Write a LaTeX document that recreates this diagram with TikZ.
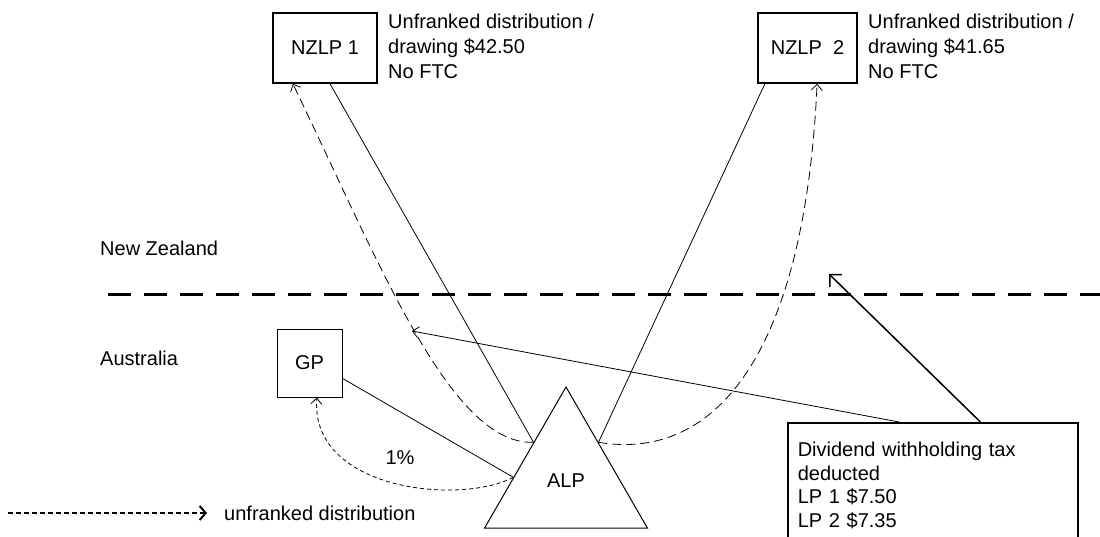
\documentclass[tikz,border=0pt]{standalone}
\usepackage{fontspec}
\setmainfont{Liberation Sans}
\usetikzlibrary{positioning,shapes.geometric,arrows.meta}
\tikzset{%
  every party/.style={
    rectangle,
    draw,
    line width=1.5pt,
    minimum height=70pt
  },
  party note/.style={
    anchor=north west,
    inner sep=0pt,
    align=left,
    font=\fontsize{20}{25}\selectfont
  },
  distribution/.style={
    ->,
    line width=0.8pt,
    dash pattern=on 9pt off 5pt
  },
}

\begin{document}
\begin{tikzpicture}[x=1pt, y=-1pt, >={Straight Barb[length=6pt,width=11pt]}, font=\fontsize{20}{24}\selectfont]

        \useasboundingbox (0,0) rectangle (1100,536);

        % countries
        \foreach \l/\y [count=\i] in {New Zealand/248, Australia/358}
        \node [anchor=west, inner sep=0pt] (region-\i) at (100,\y) {\l};
        \draw [line width=3pt, dash pattern=on 23pt off 13pt] (108,294) -- (1100,294);

        % partnerships
        \node [every party, minimum width=104pt] (nzlp-1) at (325,48) {NZLP 1};
        \node [every party, minimum width=99pt] (nzlp-2) at (807.5,48) {NZLP~~2};
        \node [party note] (note-1) at (388,14) {Unfranked distribution /\\ drawing \$42.50\\ No FTC};
        \node [party note] (note-2) at (868,14) {Unfranked distribution /\\ drawing \$41.65\\ No FTC};
        \node [rectangle, draw, line width=1pt, minimum width=65pt, minimum height=68pt] (gp) at (309.5,363) {GP};
        \node [regular polygon, regular polygon sides=3, draw, line width=1pt, minimum size=188pt, inner sep=0pt] (alp) at (566,481) {ALP};
        \node [rectangle, draw, line width=1.5pt, anchor=north west, minimum height=125pt, text width=270pt, inner xsep=10pt, align=left, font=\fontsize{20}{23.5}\selectfont] (wht) at (787,422) {Dividend withholding tax\\ deducted\\ LP 1 \$7.50\\ LP 2 \$7.35};

        % holdings
        \draw [line width=0.8pt] (nzlp-1.-82) -- (alp.130);
        \draw [line width=0.8pt] (nzlp-2.-140) -- (alp.50);
        \draw [line width=0.8pt] (gp.-25) -- (alp.176);

        % distributions
        \draw [distribution] (alp.130) .. controls +(-83,3) and +(87,180) .. (nzlp-1.-132);
        \draw [distribution] (alp.50) .. controls +(120,20) and +(-12,265) .. (nzlp-2.-75);
        \draw [distribution, dash pattern=on 4pt off 3pt] (alp.176) .. controls +(-53,28) and +(-7,93) .. (gp.-78);
        \node (share) at (400,458) {1\%};

        % withholding tax
        \coordinate (tax-1) at (412,331);
        \coordinate (tax-2) at (829,274);
        \draw [->, line width=0.8pt] (wht.118.5) -- (tax-1);
        \draw [-{Straight Barb[length=8.5pt,width=17pt]}, line width=1.5pt] (wht.53.6) -- (tax-2);

        % legend
        \node [anchor=west, inner sep=0pt] (legend) at (224,513) {unfranked distribution};
        \coordinate (legend-start) at (8,513);
        \draw [-{Straight Barb[length=6pt,width=14pt]}, line width=2pt, dash pattern=on 5pt off 3pt] (legend-start) -- ([xshift=-17pt]legend.west);

\end{tikzpicture}
\end{document}
